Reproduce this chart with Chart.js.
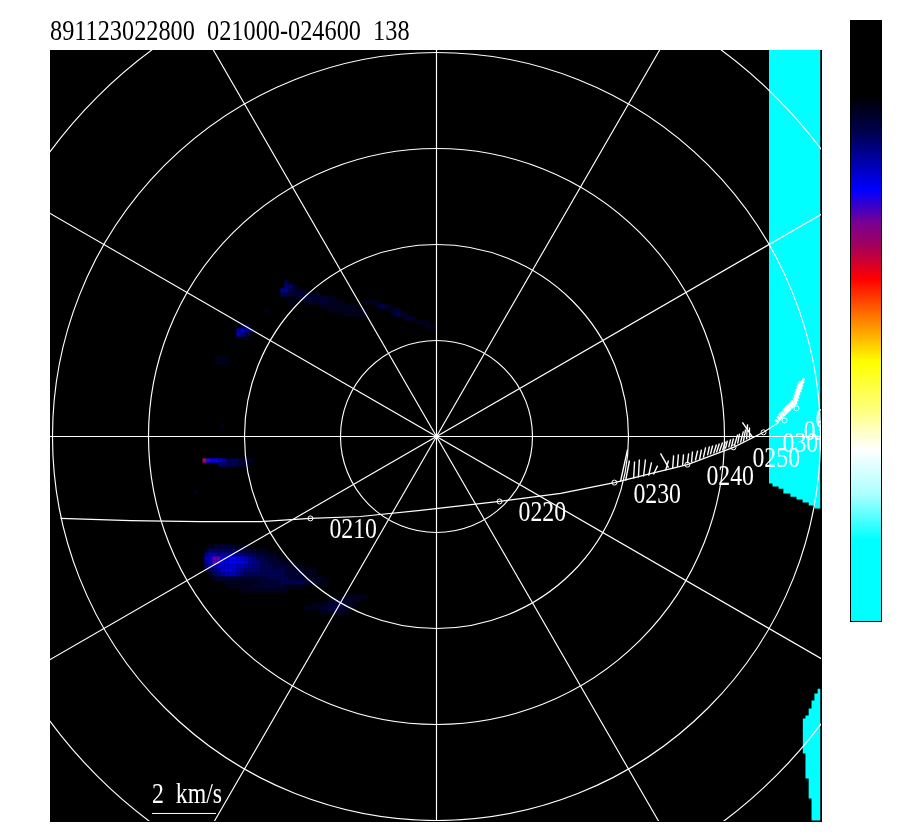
<!DOCTYPE html>
<html lang="en">
<head>
    <meta charset="UTF-8">
    <title>891123022800 021000-024600 138</title>
    <style>
        body {
            margin: 0;
            background-color: #ffffff;
        }
        canvas {
            display: block;
        }
    </style>
</head>
<body>
    <canvas id="dialChart" width="900" height="840"></canvas>

    <script src="https://cdn.jsdelivr.net/npm/chart.js"></script>
    <script>
        // All positions are km/s from the centre of the dial
        const titleText = '891123022800  021000-024600  138';
        const ringRadii = [3, 6, 9, 12, 15];
        const spokeAngles = [0, 30, 60, 90, 120, 150];

        // Spacecraft track
        const trackX = [-11.75, -9.56, -7.38, -5.50, -3.94, -2.38, -0.50, 1.97, 3.88, 5.56, 6.69, 7.84, 9.28, 10.22, 10.69];
        const trackY = [-2.56, -2.63, -2.66, -2.66, -2.56, -2.50, -2.31, -2.03, -1.78, -1.44, -1.16, -0.88, -0.34, 0.13, 0.44];

        // Time marks along the track
        const markX = [-3.94, 1.97, 5.56, 7.84, 9.28, 10.22, 10.88, 11.25];
        const markY = [-2.56, -2.03, -1.44, -0.88, -0.34, 0.13, 0.50, 0.88];
        const markLabels = ['0210', '0220', '0230', '0240', '0250', '0300', '0310', '0320'];

        // Velocity sticks on the track, foot and tip
        const stickFootX = [
            5.75, 5.91, 6.16, 6.31, 6.47, 6.63, 6.78, 7.25, 7.16, 7.38, 7.53, 7.69, 7.84,
            7.97, 8.09, 8.22, 8.34, 8.47, 8.56, 8.66, 8.75, 8.84, 8.94, 9.03, 9.13, 9.22, 9.31, 9.41, 9.50, 9.59, 9.69, 9.78, 9.88
        ];
        const stickFootY = [
            -1.41, -1.38, -1.31, -1.28, -1.25, -1.22, -1.19, -0.97, -1.06, -1.00, -0.94, -0.91, -0.84,
            -0.81, -0.75, -0.72, -0.66, -0.59, -0.56, -0.53, -0.50, -0.47, -0.44, -0.38, -0.34, -0.31, -0.28, -0.22, -0.19, -0.16, -0.09, -0.06, -0.03
        ];
        const stickTipX = [
            5.97, 6.03, 6.19, 6.34, 6.53, 6.72, 6.91, 7.00, 7.25, 7.41, 7.56, 7.72, 7.88,
            8.00, 8.16, 8.28, 8.41, 8.53, 8.63, 8.75, 8.84, 8.94, 9.03, 9.09, 9.19, 9.28, 9.41, 9.47, 9.59, 9.66, 9.72, 9.78, 9.56
        ];
        const stickTipY = [
            -0.41, -0.75, -0.78, -0.72, -0.72, -0.81, -0.91, -0.53, -0.75, -0.59, -0.56, -0.56, -0.53,
            -0.47, -0.44, -0.41, -0.34, -0.31, -0.28, -0.25, -0.22, -0.19, -0.16, -0.13, -0.09, -0.06, 0.06, 0.09, 0.16, 0.22, 0.38, 0.28, 0.44
        ];

        // The last sticks are packed so close they read as a solid streak
        const streakFootX = [10.69, 10.75, 10.81, 10.88, 10.94, 11.00, 11.06, 11.13, 11.19, 11.25, 11.28, 11.31, 11.34, 11.38, 11.41, 11.44, 11.47, 11.47];
        const streakFootY = [0.44, 0.50, 0.56, 0.63, 0.69, 0.75, 0.81, 0.88, 0.94, 1.00, 1.09, 1.19, 1.28, 1.38, 1.47, 1.56, 1.66, 1.75];
        const streakTipX = [10.59, 10.66, 10.72, 10.78, 10.84, 10.91, 10.97, 11.03, 11.09, 11.16, 11.19, 11.22, 11.25, 11.28, 11.31, 11.34, 11.41, 11.47];
        const streakTipY = [0.53, 0.63, 0.72, 0.78, 0.88, 0.94, 1.00, 1.06, 1.13, 1.22, 1.31, 1.41, 1.50, 1.59, 1.66, 1.72, 1.75, 1.81];

        // Cyan areas: no data outside the instrument range
        const upperEdgeX = [10.39, 10.50, 10.69, 10.84, 11.06, 11.25, 11.44, 11.63, 11.81, 12.00];
        const upperEdgeY = [-1.47, -1.56, -1.63, -1.78, -1.88, -1.97, -2.06, -2.16, -2.25, -2.25];
        const lowerEdgeX = [11.44, 11.53, 11.63, 11.72, 11.81, 11.91, 12.00];
        const lowerEdgeTop = [-8.81, -8.72, -8.50, -8.25, -8.03, -7.88, -7.88];
        const lowerEdgeBottom = [-9.91, -10.69, -11.31, -12.00, -12.00, -12.00, -12.00];

        // Flux cells, one row per entry: row top, left of first cell, then colour levels
        const cellStep = 0.125;
        const rowY = [
            -3.375, -3.5, -3.625, -3.75, -3.875, -4, -4.125, -4.25, -4.375, -4.5, -4.625, -4.75,
            -4.94, -5.06, -5.19, -5.31, -5.44,
            4.875, 4.75, 4.625, 4.5, 4.375, 4.25, 4.125, 4, 3.875,
            4.25, 4.125, 4, 3.875, 3.75, 3.625, 3.5,
            3.5, 3.375, 3.25, 3.125, 2.5, 2.375, 4, 0.375, -0.6875, -0.8125, -1.6875
        ];
        const rowStart = [
            -7.25, -7.25, -7.25, -7.25, -7.25, -7.25, -7.25, -7.25, -7.25, -7.25, -6.5, -6.125,
            -2.875, -3.375, -3.875, -4.125, -3.625,
            -4.75, -4.875, -4.875, -4.875, -4.375, -4.625, -3.625, -3.625, -3,
            -2.25, -1.875, -1.5, -1.375, -1, -0.625, -0.375,
            -6.125, -6.25, -6.25, -6.125, -6.875, -6.875, -5.375, -6.75, -7.3125, -6.8125, -7.5625
        ];
        const rowLevels = [
            [0, 1, 1, 2, 2, 2, 2, 1, 1, 1],
            [1, 3, 3, 3, 3, 3, 3, 3, 2, 2, 2, 2, 1, 1, 1, 1],
            [4, 6, 6, 5, 5, 5, 5, 5, 4, 4, 3, 3, 3, 2, 2, 1, 1, 1],
            [6, 7, 11, 11, 8, 8, 9, 9, 8, 7, 6, 5, 4, 3, 3, 2, 2, 2, 1, 1],
            [5, 7, 11, 10, 8, 8, 9, 9, 8, 8, 7, 5, 5, 4, 3, 3, 2, 2, 2, 1, 1, 1],
            [4, 6, 6, 7, 7, 7, 7, 8, 6, 6, 5, 5, 4, 4, 3, 3, 3, 2, 2, 2, 2, 1, 1, 1, 1],
            [1, 3, 4, 5, 7, 8, 8, 7, 6, 5, 4, 4, 4, 4, 3, 3, 3, 3, 3, 3, 2, 2, 2, 2, 1, 1, 1, 1],
            [0, 1, 3, 4, 5, 6, 6, 6, 5, 4, 3, 3, 3, 3, 3, 3, 3, 3, 3, 3, 2, 2, 2, 2, 2, 1, 1, 1],
            [0, 0, 1, 2, 2, 2, 2, 2, 2, 2, 2, 2, 2, 2, 2, 2, 3, 3, 3, 3, 3, 2, 2, 2, 2, 2, 1, 1, 1, 1],
            [0, 0, 0, 0, 0, 1, 1, 1, 1, 1, 1, 1, 1, 1, 2, 2, 2, 2, 2, 3, 3, 3, 3, 3, 3, 2, 2, 2, 1, 1, 1],
            [1, 1, 1, 1, 1, 1, 2, 2, 2, 2, 2, 2, 2, 2, 1, 1, 1, 1, 1],
            [1, 1, 1, 1, 1, 1, 1, 1, 1, 1, 1, 1],
            [1, 1, 1, 1, 1, 1],
            [1, 1, 1, 2, 2, 1, 1, 1],
            [1, 1, 1, 1, 2, 2, 3, 3, 2, 1, 1],
            [1, 1, 1, 1, 2, 2, 2, 3, 3, 2, 1, 1],
            [1, 1, 1, 1, 1, 1, 1],
            [3],
            [0, 4, 4, 2],
            [5, 5, 3, 2, 1, 1],
            [3, 3, 2, 2, 2, 2, 2, 1, 1, 1],
            [1, 2, 2, 2, 2, 2, 2, 2, 1, 1],
            [1, 1, 0, 0, 1, 1, 1, 1, 2, 2, 1, 1, 1, 1],
            [1, 1, 1, 1, 1, 1, 1, 1, 1],
            [0, 0, 1, 1, 1, 1, 1, 1, 1, 1, 1, 1],
            [0, 1, 1, 1, 1, 1],
            [1, 1, 1, 1],
            [2, 3, 2, 1],
            [1, 2, 2],
            [2, 3, 2, 1],
            [2, 2, 1],
            [1, 1, 1],
            [1, 1, 1],
            [2, 3],
            [5, 7, 6, 4],
            [6, 5, 3, 1],
            [0, 1],
            [1, 1, 1],
            [1, 1, 1],
            [1],
            [1],
            [12, 10, 9, 9, 7, 5, 3, 3, 3, 2, 2, 2, 1],
            [4, 4, 3, 3, 3, 2, 2, 1],
            [1]
        ];
        const levelColors = [
            '#000000', '#000020', '#000038', '#000055', '#000078', '#000098', '#0000b8',
            '#0000d0', '#0000e8', '#0000ff', '#2a00e0', '#6000b0', '#a00070'
        ];

        // Colour bar
        const barStops = [0, 0.125, 0.183, 0.283, 0.338, 0.374, 0.431, 0.499, 0.569, 0.649, 0.715, 0.79, 0.865, 1];
        const barColors = [
            '#000000', '#000000', '#00004a', '#0000ff', '#7a0090', '#a00060', '#ff0000',
            '#ff8000', '#ffff00', '#ffff80', '#ffffff', '#aaffff', '#00ffff', '#00ffff'
        ];

        const scaleBarStart = -8.89;
        const scaleBarKms = 2;
        const scaleBarLabel = '2  km/s';

        function toPoints(xs, ys) {
            return xs.map((x, i) => ({ x: x, y: ys[i] }));
        }

        // Separate foot-tip pairs with a gap so each stick is its own segment
        function stickPoints(footX, footY, tipX, tipY) {
            const points = [];
            footX.forEach((x, i) => {
                points.push({ x: x, y: footY[i] });
                points.push({ x: tipX[i], y: tipY[i] });
                points.push({ x: NaN, y: NaN });
            });
            return points;
        }

        const cellPoints = [];
        const cellColors = [];
        rowLevels.forEach((levels, r) => {
            levels.forEach((level, c) => {
                if (level > 0) {
                    cellPoints.push({
                        x: rowStart[r] + (c + 0.5) * cellStep,
                        y: rowY[r] - 0.5 * cellStep
                    });
                    cellColors.push(levelColors[level]);
                }
            });
        });

        // Narrow serif lettering of the original plot
        function drawText(ctx, text, x, y, squeeze) {
            ctx.save();
            ctx.translate(x, y);
            ctx.scale(squeeze, 1);
            ctx.font = '29px "Liberation Serif"';
            ctx.fillText(text, 0, 0);
            ctx.restore();
        }

        const backgroundPlugin = {
            id: 'dialBackground',
            beforeDraw(chart) {
                const area = chart.chartArea;
                chart.ctx.fillStyle = '#000000';
                chart.ctx.fillRect(area.left, area.top, area.right - area.left, area.bottom - area.top);
            }
        };

        const dialPlugin = {
            id: 'dialOverlay',
            afterDatasetsDraw(chart) {
                const ctx = chart.ctx;
                const area = chart.chartArea;
                const xs = chart.scales.x;
                const ys = chart.scales.y;
                const cx = xs.getPixelForValue(0);
                const cy = ys.getPixelForValue(0);
                const reach = ringRadii[ringRadii.length - 1];

                ctx.save();
                ctx.beginPath();
                ctx.rect(area.left, area.top, area.right - area.left - 1, area.bottom - area.top - 1);
                ctx.clip();

                // Rings and spokes
                ctx.strokeStyle = '#ffffff';
                ctx.lineWidth = 1.15;
                ringRadii.forEach(r => {
                    ctx.beginPath();
                    ctx.arc(cx, cy, xs.getPixelForValue(r) - cx, 0, Math.PI * 2);
                    ctx.stroke();
                });
                spokeAngles.forEach(deg => {
                    const a = deg * Math.PI / 180;
                    ctx.beginPath();
                    ctx.moveTo(xs.getPixelForValue(-reach * Math.cos(a)), ys.getPixelForValue(-reach * Math.sin(a)));
                    ctx.lineTo(xs.getPixelForValue(reach * Math.cos(a)), ys.getPixelForValue(reach * Math.sin(a)));
                    ctx.stroke();
                });

                // Time labels
                ctx.fillStyle = '#ffffff';
                markLabels.forEach((label, i) => {
                    drawText(ctx, label, xs.getPixelForValue(markX[i]) + 19, ys.getPixelForValue(markY[i]) + 20, 0.82);
                });

                // Scale bar
                const barLeft = xs.getPixelForValue(scaleBarStart);
                const barRight = xs.getPixelForValue(scaleBarStart + scaleBarKms);
                const barY = ys.getPixelForValue(-11.78);
                ctx.lineWidth = 1;
                ctx.beginPath();
                ctx.moveTo(barLeft, barY);
                ctx.lineTo(barRight, barY);
                ctx.stroke();
                drawText(ctx, scaleBarLabel, barLeft, barY - 10, 0.82);
                ctx.restore();

                // Title
                ctx.fillStyle = '#000000';
                drawText(ctx, titleText, 50, 40, 0.838);

                // Colour bar
                const gradient = ctx.createLinearGradient(0, 20, 0, 621);
                barStops.forEach((stop, i) => gradient.addColorStop(stop, barColors[i]));
                ctx.fillStyle = gradient;
                ctx.fillRect(850, 20, 32, 601);
                ctx.strokeStyle = '#000000';
                ctx.lineWidth = 1;
                ctx.strokeRect(850.5, 20.5, 31, 601);
            }
        };

        new Chart(document.getElementById('dialChart').getContext('2d'), {
            type: 'scatter',
            data: {
                datasets: [
                    {
                        label: 'Time marks',
                        data: toPoints(markX, markY),
                        order: 2,
                        showLine: false,
                        pointRadius: 2.5,
                        pointBorderWidth: 1,
                        pointBorderColor: '#ffffff',
                        pointBackgroundColor: 'transparent'
                    },
                    {
                        label: 'Velocity streak',
                        data: stickPoints(streakFootX, streakFootY, streakTipX, streakTipY),
                        order: 0,
                        showLine: true,
                        spanGaps: false,
                        borderColor: '#ffffff',
                        borderWidth: 2.6,
                        pointRadius: 0
                    },
                    {
                        label: 'Velocity sticks',
                        data: stickPoints(stickFootX, stickFootY, stickTipX, stickTipY),
                        order: 1,
                        showLine: true,
                        spanGaps: false,
                        borderColor: '#ffffff',
                        borderWidth: 1.4,
                        pointRadius: 0
                    },
                    {
                        label: 'Track',
                        data: toPoints(trackX, trackY),
                        order: 3,
                        showLine: true,
                        borderColor: '#ffffff',
                        borderWidth: 1.2,
                        pointRadius: 0
                    },
                    {
                        label: 'Flux cells',
                        data: cellPoints,
                        order: 4,
                        showLine: false,
                        pointStyle: 'rect',
                        pointRadius: 3,
                        pointBorderWidth: 0,
                        pointBackgroundColor: cellColors
                    },
                    {
                        label: 'Out of range, upper',
                        data: toPoints(upperEdgeX, upperEdgeY),
                        order: 5,
                        showLine: true,
                        stepped: 'before',
                        fill: 'end',
                        backgroundColor: '#00ffff',
                        borderWidth: 0,
                        pointRadius: 0
                    },
                    {
                        label: 'Out of range, lower',
                        data: toPoints(lowerEdgeX, lowerEdgeTop),
                        order: 6,
                        showLine: true,
                        stepped: 'before',
                        fill: '+1',
                        backgroundColor: '#00ffff',
                        borderWidth: 0,
                        pointRadius: 0
                    },
                    {
                        label: 'Out of range, lower edge',
                        data: toPoints(lowerEdgeX, lowerEdgeBottom),
                        order: 7,
                        showLine: true,
                        stepped: 'before',
                        fill: false,
                        borderWidth: 0,
                        pointRadius: 0
                    }
                ]
            },
            options: {
                responsive: false,
                animation: false,
                devicePixelRatio: 1,
                layout: {
                    padding: { left: 50, top: 50, right: 78, bottom: 18 }
                },
                scales: {
                    x: { display: false, min: -12.078, max: 12.047 },
                    y: { display: false, min: -12.047, max: 12.078 }
                },
                plugins: {
                    legend: { display: false },
                    tooltip: { enabled: false }
                }
            },
            plugins: [backgroundPlugin, dialPlugin]
        });
    </script>
</body>
</html>
